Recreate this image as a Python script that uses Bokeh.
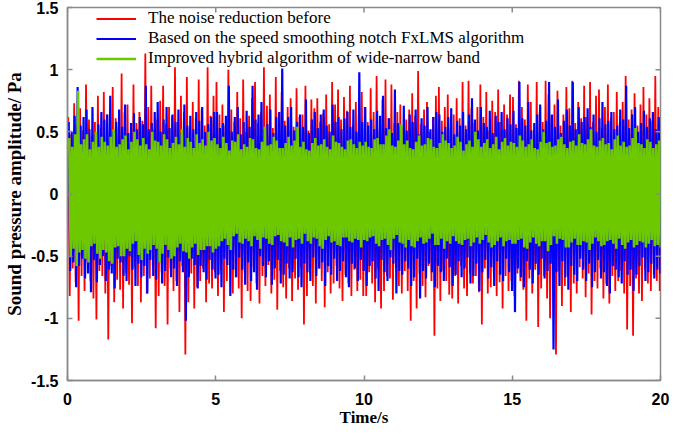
import numpy as np
from bokeh.plotting import figure
from bokeh.models import FixedTicker, Legend, LegendItem, Range1d
from bokeh.embed import file_html
from bokeh.resources import INLINE

# ---------------- data: successive extremes of each signal -------------
# upper extremes every 0.1 s, lower extremes 0.05 s after them (200 of each per series)
red_hi = [
    0.62, 0.48, 0.73, 0.55, 0.69, 0.51, 0.88, 0.60, 0.47, 0.58, 0.79, 0.53, 0.82, 0.64, 0.50, 0.86, 0.61, 0.54, 0.97, 0.66, 0.72, 0.49, 0.88, 0.57, 0.66,
    0.59, 1.13, 0.70, 0.87, 0.52, 0.60, 0.75, 0.87, 0.56, 0.70, 0.63, 1.02, 0.58, 0.79, 0.66, 0.94, 0.54, 0.74, 0.61, 0.92, 0.68, 0.55, 1.02, 0.63, 0.79,
    0.90, 0.64, 0.72, 0.55, 1.00, 0.68, 0.58, 0.82, 0.61, 0.92, 0.50, 0.63, 0.77, 0.90, 0.57, 0.66, 1.02, 0.71, 0.80, 0.53, 0.94, 0.65, 0.82, 0.59, 0.70,
    0.77, 0.54, 0.85, 0.62, 0.64, 0.87, 0.51, 0.76, 0.69, 0.77, 0.58, 0.65, 0.80, 0.56, 0.90, 0.72, 0.84, 0.60, 0.78, 0.67, 0.87, 0.55, 0.74, 0.63, 0.82,
    0.70, 0.58, 0.85, 0.66, 0.95, 0.52, 0.76, 0.92, 0.61, 0.88, 0.57, 0.66, 0.72, 0.54, 0.60, 0.68, 0.81, 0.63, 0.99, 0.56, 0.68, 0.74, 0.50, 0.62, 0.79,
    0.86, 0.59, 0.70, 0.80, 0.53, 0.64, 0.77, 0.61, 0.90, 0.55, 0.91, 0.69, 0.57, 0.70, 0.88, 0.62, 0.82, 0.51, 0.75, 0.66, 0.84, 0.58, 0.72, 0.64, 0.80,
    0.78, 0.56, 0.91, 0.70, 0.60, 0.88, 0.74, 0.52, 0.90, 0.66, 0.58, 0.91, 0.80, 0.63, 0.72, 0.83, 0.55, 0.64, 0.86, 0.69, 0.91, 0.57, 0.74, 0.61, 0.87,
    0.62, 0.90, 0.58, 0.79, 0.84, 0.53, 0.70, 0.88, 0.61, 0.66, 0.82, 0.57, 0.74, 0.95, 0.60, 0.68, 0.81, 0.55, 0.72, 0.86, 0.64, 0.77, 0.59, 0.95, 0.70]
red_lo = [
    -0.82, -0.60, -0.71, -1.02, -0.66, -0.78, -0.55, -0.70, -0.84, -1.01, -0.62, -0.66, -0.80, -1.17, -0.58, -0.87, -0.69, -0.77, -0.92, -0.64, -0.73, -1.04, -0.59, -0.74, -0.87,
    -0.66, -0.80, -0.68, -0.57, -1.08, -0.82, -0.63, -0.74, -1.05, -0.60, -0.78, -0.70, -0.95, -0.58, -1.29, -0.87, -0.64, -0.92, -0.75, -0.70, -0.60, -0.87, -0.72, -0.76, -0.63,
    -0.82, -0.61, -0.95, -0.70, -0.58, -0.80, -0.67, -0.76, -1.00, -0.63, -0.78, -0.86, -0.59, -0.72, -0.88, -0.66, -0.74, -0.57, -0.80, -0.69, -0.93, -0.62, -0.75, -0.84, -0.60,
    -0.86, -0.68, -0.77, -0.59, -1.05, -0.82, -0.64, -0.74, -0.88, -0.60, -0.70, -0.91, -0.63, -0.80, -0.72, -0.58, -0.76, -0.86, -0.65, -0.72, -0.82, -0.61, -0.78, -0.69, -0.82,
    -0.82, -0.63, -0.72, -0.87, -0.60, -0.92, -0.78, -0.66, -0.68, -0.85, -0.59, -0.74, -0.80, -0.62, -0.78, -1.02, -0.70, -0.92, -0.64, -0.74, -0.83, -0.58, -0.70, -1.14, -0.76,
    -0.86, -0.62, -0.70, -0.81, -0.84, -0.66, -0.88, -0.58, -0.76, -0.82, -0.64, -0.72, -0.66, -0.79, -1.05, -0.60, -0.80, -0.75, -0.63, -0.82, -0.71, -0.92, -0.66, -0.78, -0.70,
    -0.82, -0.64, -0.70, -0.77, -1.02, -0.68, -0.80, -0.61, -1.07, -0.76, -0.66, -0.84, -1.00, -0.70, -1.29, -0.62, -0.90, -0.74, -0.66, -0.95, -0.72, -0.80, -0.59, -0.68, -0.83,
    -0.64, -0.97, -0.70, -0.76, -0.60, -0.84, -0.72, -0.88, -0.66, -0.78, -0.70, -0.62, -0.80, -1.09, -0.74, -1.14, -0.68, -0.80, -0.86, -0.61, -0.72, -0.78, -0.65, -0.70, -0.78]

blue_hi = [
    0.58, 0.50, 0.63, 0.86, 0.55, 0.62, 0.68, 0.52, 0.70, 0.48, 0.56, 0.66, 0.60, 0.64, 0.79, 0.50, 0.58, 0.68, 0.54, 0.72, 0.49, 0.57, 0.65, 0.52, 0.62,
    0.56, 0.87, 0.52, 0.57, 0.66, 0.74, 0.50, 0.60, 0.70, 0.53, 0.64, 0.58, 0.68, 0.49, 0.72, 0.55, 0.63, 0.52, 0.66, 0.59, 0.70, 0.50, 0.56, 0.62, 0.66,
    0.66, 0.53, 0.57, 0.63, 0.87, 0.50, 0.62, 0.70, 0.48, 0.58, 0.67, 0.54, 0.87, 0.60, 0.64, 0.74, 0.52, 0.56, 0.68, 0.49, 0.62, 0.66, 1.01, 0.55, 0.62,
    0.70, 0.51, 0.58, 0.64, 0.54, 0.76, 0.49, 0.60, 0.66, 0.53, 0.64, 0.68, 0.55, 0.50, 0.72, 0.58, 0.62, 0.52, 0.61, 0.66, 0.54, 0.68, 0.50, 0.98, 0.58,
    0.70, 0.55, 0.60, 0.52, 0.67, 0.63, 0.79, 0.53, 0.61, 0.49, 0.84, 0.57, 0.54, 0.71, 0.51, 0.64, 0.58, 0.68, 0.48, 0.61, 0.55, 0.70, 0.52, 0.62, 0.66,
    0.64, 0.50, 0.54, 0.62, 0.69, 0.48, 0.59, 0.55, 0.66, 0.52, 0.64, 0.77, 0.60, 0.51, 0.70, 0.57, 0.54, 0.67, 0.49, 0.63, 0.58, 0.66, 0.52, 0.61, 0.56,
    0.67, 0.53, 0.90, 0.61, 0.55, 0.74, 0.51, 0.57, 0.64, 0.72, 0.52, 0.59, 0.90, 0.64, 0.54, 0.76, 0.49, 0.59, 0.68, 0.55, 0.90, 0.52, 0.70, 0.58, 0.62,
    0.69, 0.54, 0.64, 0.50, 0.61, 0.74, 0.56, 0.59, 0.66, 0.52, 0.55, 0.68, 0.60, 0.87, 0.53, 0.64, 0.70, 0.50, 0.57, 0.67, 0.54, 0.61, 0.66, 0.52, 0.62]
blue_lo = [
    -0.62, -0.55, -0.75, -0.58, -0.52, -0.68, -0.64, -0.79, -0.53, -0.71, -0.57, -0.50, -0.70, -0.61, -0.64, -0.76, -0.52, -0.55, -0.66, -0.70, -0.50, -0.61, -0.74, -0.56, -0.67,
    -0.58, -0.80, -0.53, -0.66, -0.69, -0.55, -0.72, -0.62, -0.51, -0.67, -0.60, -0.74, -0.54, -0.63, -1.02, -0.67, -0.52, -0.57, -0.76, -0.58, -0.63, -0.69, -0.53, -0.61, -0.68,
    -0.65, -0.75, -0.52, -0.57, -0.82, -0.61, -0.67, -0.51, -0.61, -0.73, -0.55, -0.70, -0.63, -0.77, -0.50, -0.58, -0.67, -0.54, -0.73, -0.60, -0.53, -0.72, -0.65, -0.56, -0.68,
    -0.63, -0.52, -0.67, -0.75, -0.56, -0.63, -0.70, -0.51, -0.66, -0.60, -0.55, -0.74, -0.58, -0.65, -0.52, -0.70, -0.62, -0.54, -0.67, -0.75, -0.56, -0.60, -0.70, -0.53, -0.62,
    -0.74, -0.58, -0.54, -0.68, -0.78, -0.53, -0.63, -0.70, -0.51, -0.56, -0.80, -0.62, -0.65, -0.54, -0.60, -0.74, -0.67, -0.52, -0.84, -0.62, -0.68, -0.56, -0.63, -0.75, -0.58,
    -0.63, -0.70, -0.52, -0.59, -0.74, -0.65, -0.54, -0.67, -0.60, -0.51, -0.72, -0.66, -0.56, -0.78, -0.63, -0.53, -0.68, -0.59, -0.74, -0.54, -0.65, -0.70, -0.52, -0.63, -0.78,
    -0.95, -0.60, -0.67, -0.75, -0.54, -0.61, -0.72, -0.56, -0.65, -0.52, -0.68, -0.62, -0.56, -1.25, -0.63, -0.74, -0.54, -0.67, -0.77, -0.58, -0.65, -0.70, -0.52, -0.61, -0.70,
    -0.56, -0.75, -0.63, -0.53, -0.68, -0.63, -0.74, -0.80, -0.58, -0.61, -0.67, -0.72, -0.54, -0.65, -0.61, -0.78, -0.65, -0.58, -0.51, -0.70, -0.63, -0.56, -0.68, -0.61, -0.64]

green_hi = [
    0.45, 0.38, 0.48, 0.83, 0.40, 0.44, 0.48, 0.36, 0.42, 0.50, 0.38, 0.46, 0.42, 0.39, 0.46, 0.52, 0.38, 0.40, 0.44, 0.47, 0.36, 0.42, 0.50, 0.44, 0.39,
    0.45, 0.40, 0.36, 0.50, 0.43, 0.42, 0.39, 0.48, 0.44, 0.37, 0.41, 0.46, 0.40, 0.52, 0.38, 0.45, 0.42, 0.37, 0.48, 0.41, 0.44, 0.39, 0.50, 0.43, 0.45,
    0.40, 0.37, 0.46, 0.41, 0.35, 0.43, 0.42, 0.48, 0.36, 0.40, 0.38, 0.45, 0.44, 0.37, 0.36, 0.42, 0.54, 0.39, 0.40, 0.46, 0.43, 0.37, 0.37, 0.41, 0.46,
    0.39, 0.43, 0.54, 0.38, 0.42, 0.36, 0.35, 0.41, 0.45, 0.39, 0.40, 0.44, 0.38, 0.36, 0.47, 0.42, 0.41, 0.38, 0.36, 0.43, 0.44, 0.40, 0.37, 0.42, 0.39,
    0.42, 0.38, 0.37, 0.44, 0.45, 0.40, 0.40, 0.47, 0.52, 0.39, 0.38, 0.43, 0.56, 0.40, 0.43, 0.37, 0.36, 0.42, 0.47, 0.39, 0.40, 0.45, 0.44, 0.38, 0.37,
    0.41, 0.48, 0.43, 0.41, 0.37, 0.39, 0.46, 0.42, 0.35, 0.40, 0.43, 0.38, 0.50, 0.44, 0.38, 0.41, 0.44, 0.37, 0.40, 0.46, 0.36, 0.42, 0.45, 0.39, 0.42,
    0.41, 0.38, 0.47, 0.43, 0.38, 0.40, 0.44, 0.37, 0.36, 0.42, 0.50, 0.41, 0.42, 0.38, 0.39, 0.44, 0.46, 0.40, 0.37, 0.42, 0.43, 0.39, 0.48, 0.41, 0.40,
    0.44, 0.52, 0.39, 0.38, 0.43, 0.45, 0.40, 0.41, 0.36, 0.44, 0.47, 0.39, 0.42, 0.38, 0.39, 0.45, 0.53, 0.41, 0.40, 0.37, 0.44, 0.42, 0.37, 0.40, 0.43]
green_lo = [
    -0.50, -0.44, -0.58, -0.47, -0.45, -0.52, -0.55, -0.42, -0.40, -0.48, -0.52, -0.45, -0.47, -0.54, -0.56, -0.43, -0.42, -0.50, -0.50, -0.44, -0.46, -0.40, -0.38, -0.49, -0.53,
    -0.44, -0.48, -0.45, -0.41, -0.44, -0.55, -0.48, -0.41, -0.45, -0.52, -0.50, -0.43, -0.40, -0.46, -0.47, -0.52, -0.43, -0.40, -0.49, -0.45, -0.45, -0.42, -0.42, -0.47, -0.44,
    -0.42, -0.38, -0.36, -0.41, -0.45, -0.34, -0.32, -0.39, -0.40, -0.36, -0.38, -0.42, -0.34, -0.37, -0.44, -0.35, -0.36, -0.40, -0.41, -0.34, -0.33, -0.38, -0.39, -0.42, -0.35,
    -0.43, -0.37, -0.36, -0.40, -0.32, -0.38, -0.40, -0.35, -0.36, -0.42, -0.44, -0.37, -0.34, -0.39, -0.38, -0.41, -0.42, -0.35, -0.35, -0.38, -0.39, -0.36, -0.37, -0.43, -0.37,
    -0.38, -0.35, -0.34, -0.40, -0.42, -0.37, -0.36, -0.41, -0.45, -0.36, -0.33, -0.39, -0.40, -0.43, -0.37, -0.42, -0.43, -0.38, -0.35, -0.40, -0.39, -0.36, -0.32, -0.41, -0.41,
    -0.36, -0.44, -0.38, -0.40, -0.34, -0.38, -0.40, -0.41, -0.37, -0.36, -0.42, -0.39, -0.35, -0.40, -0.37, -0.33, -0.39, -0.43, -0.41, -0.38, -0.35, -0.42, -0.38, -0.37, -0.40,
    -0.40, -0.37, -0.36, -0.43, -0.44, -0.39, -0.35, -0.40, -0.42, -0.38, -0.38, -0.46, -0.41, -0.34, -0.40, -0.36, -0.37, -0.43, -0.43, -0.39, -0.36, -0.41, -0.41, -0.38, -0.39,
    -0.45, -0.40, -0.35, -0.38, -0.42, -0.41, -0.38, -0.37, -0.40, -0.44, -0.36, -0.41, -0.44, -0.39, -0.37, -0.43, -0.41, -0.38, -0.39, -0.43, -0.40, -0.37, -0.42, -0.41, -0.43]

series_names = ["The noise reduction before",
                "Based on the speed smoothing notch FxLMS algorithm",
                "Improved hybrid algorithm of wide-narrow band"]
series_colors = ["#ff0000", "#0000ff", "#6ec800"]

x_ticks = [0, 5, 10, 15, 20]
x_tick_labels = ["0", "5", "10", "15", "20"]
y_ticks = [-1.5, -1.0, -0.5, 0.0, 0.5, 1.0, 1.5]
y_tick_labels = ["-1.5", "-1", "-0.5", "0", "0.5", "1", "1.5"]

x_label = "Time/s"
y_label = "Sound pressure amplitude/ Pa"

# sampling instants of the extremes (each series sampled at its own instants)
k = np.arange(len(red_hi))
series_t0 = [0.025, 0.042, 0.058]


def interleave(hi, lo, t0):
    t_hi = t0 + 0.1 * k
    t = np.empty(2 * len(hi))
    y = np.empty(2 * len(hi))
    t[0::2], t[1::2] = t_hi, t_hi + 0.05
    y[0::2], y[1::2] = hi, lo
    return t, y


W, H = 669, 429
TOP, BOTTOM = 7, 48
AXIS_GRAY = "#8a8a8a"

p = figure(width=W, height=H, output_backend="svg", toolbar_location=None,
           x_range=Range1d(x_ticks[0], x_ticks[-1]), y_range=Range1d(y_ticks[0], y_ticks[-1]),
           min_border_top=TOP, min_border_bottom=BOTTOM, min_border_right=9, min_border_left=0,
           background_fill_color="white", border_fill_color="white")
p.grid.visible = False
p.outline_line_color = AXIS_GRAY
p.outline_line_width = 1.5

renderers = []
for (hi, lo, col, t0, lw) in [(red_hi, red_lo, series_colors[0], series_t0[0], 1.8),
                              (blue_hi, blue_lo, series_colors[1], series_t0[1], 2.2),
                              (green_hi, green_lo, series_colors[2], series_t0[2], 2.6)]:
    t, y = interleave(hi, lo, t0)
    r = p.line(t, y, line_color=col, line_width=lw)
    renderers.append(r)

# mirrored inward ticks on the top and right edges of the box (clipped to the frame)
p.scatter(x_ticks, [y_ticks[-1]] * len(x_ticks), marker="dash", size=10, angle=np.pi / 2,
          line_color=AXIS_GRAY, line_width=1.5)
p.scatter([x_ticks[-1]] * len(y_ticks), y_ticks, marker="dash", size=10,
          line_color=AXIS_GRAY, line_width=1.5)


def style_axis(ax):
    ax.axis_line_color = AXIS_GRAY
    ax.axis_line_width = 1.5
    ax.major_tick_line_color = AXIS_GRAY
    ax.major_tick_line_width = 1.5
    ax.major_tick_in = 5
    ax.major_tick_out = 0
    ax.minor_tick_in = 0
    ax.minor_tick_out = 0
    ax.major_label_text_font = "Liberation Sans"
    ax.major_label_text_font_style = "bold"
    ax.major_label_text_font_size = "16px"
    ax.major_label_text_color = "black"
    ax.axis_label_text_font = "Liberation Serif"
    ax.axis_label_text_font_style = "bold"
    ax.axis_label_text_color = "black"


xa = p.xaxis[0]
xa.ticker = FixedTicker(ticks=x_ticks)
xa.major_label_overrides = {v: s for v, s in zip(x_ticks, x_tick_labels)}
style_axis(xa)
xa.axis_label = x_label
xa.axis_label_text_font_size = "17px"
xa.major_label_standoff = 12
xa.axis_label_standoff = 0

ya = p.yaxis[0]
ya.ticker = FixedTicker(ticks=y_ticks)
ya.major_label_overrides = {v: s for v, s in zip(y_ticks, y_tick_labels)}
style_axis(ya)
ya.axis_label = y_label
ya.axis_label_text_font_size = "19px"
ya.major_label_standoff = 9
ya.axis_label_standoff = 3

# legend placed by its lower-left corner (screen px above the frame bottom)
frame_h = H - TOP - BOTTOM
legend_drop = 62
legend = Legend(items=[LegendItem(label=n, renderers=[r]) for n, r in zip(series_names, renderers)],
                location=(29, frame_h - legend_drop), orientation="vertical",
                padding=0, margin=0, spacing=-2,
                glyph_width=40, glyph_height=17, label_height=17, label_standoff=12,
                label_text_font="Liberation Serif", label_text_font_size="17px",
                label_text_color="black",
                background_fill_alpha=0, border_line_alpha=0)
p.add_layout(legend, "center")

open("out.html", "w").write(file_html(p, INLINE))
